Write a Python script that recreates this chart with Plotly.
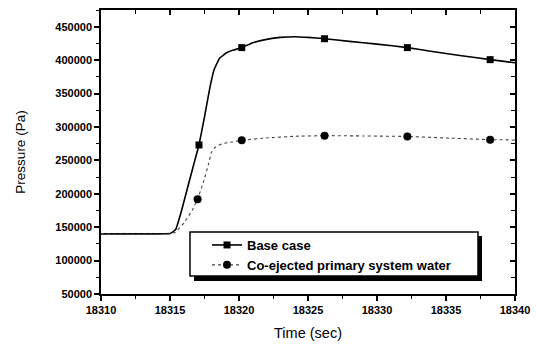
import plotly.graph_objects as go

# ---------------- data ----------------
base_t = [18310, 18314, 18315, 18315.4, 18315.8, 18316.4, 18316.8, 18317.1, 18317.5,
          18317.9, 18318.2, 18318.6, 18319.1, 18319.6, 18320.2, 18321, 18322, 18323, 18324,
          18325, 18326.2, 18328, 18330, 18332.2, 18334, 18336, 18338.2, 18340]
base_p = [140000, 140000, 140500, 146000, 172000, 219000, 250000, 273000, 315000,
          360000, 386000, 403000, 411000, 415000, 418700, 426000, 431000, 434000, 435000,
          434000, 432000, 428000, 424000, 418700, 413000, 407000, 400700, 396000]
base_mark_t = [18317.1, 18320.2, 18326.2, 18332.2, 18338.2]
base_mark_p = [273000, 418700, 432000, 418700, 400700]

coej_t = [18310, 18315, 18315.4, 18316.0, 18316.6, 18317.0, 18317.4, 18317.8, 18318.0,
          18318.3, 18318.8, 18319.5, 18320.2, 18322, 18324, 18326.2, 18329, 18332.2,
          18335, 18338.2, 18340]
coej_p = [140000, 140000, 142500, 156000, 175000, 191800, 216000, 245000, 262000,
          270000, 275000, 277500, 280000, 283500, 286000, 287000, 286500, 285800,
          283500, 281000, 280500]
coej_mark_t = [18317.0, 18320.2, 18326.2, 18332.2, 18338.2]
coej_mark_p = [191800, 280000, 287000, 285800, 281000]

series_names = ["Base case", "Co-ejected primary system water"]

x_range = [18310, 18340]
y_range = [50000, 475000]

FONT = "Liberation Sans, Arial, sans-serif"

fig = go.Figure()

# curves
fig.add_trace(go.Scatter(x=base_t, y=base_p, mode="lines", showlegend=False,
                         line=dict(color="black", width=1.6, shape="spline", smoothing=0.25),
                         hoverinfo="skip"))
fig.add_trace(go.Scatter(x=coej_t, y=coej_p, mode="lines", showlegend=False,
                         line=dict(color="#444444", width=1.1, dash="dot", shape="spline", smoothing=0.25),
                         hoverinfo="skip"))
# markers
fig.add_trace(go.Scatter(x=base_mark_t, y=base_mark_p, mode="markers", showlegend=False,
                         marker=dict(symbol="square", size=7, color="black")))
fig.add_trace(go.Scatter(x=coej_mark_t, y=coej_mark_p, mode="markers", showlegend=False,
                         marker=dict(symbol="circle", size=8, color="black")))
# legend entries (attached to the mirror axes)
fig.add_trace(go.Scatter(x=[None], y=[None], mode="lines+markers", name=series_names[0],
                         xaxis="x2", yaxis="y2",
                         line=dict(color="black", width=1.6),
                         marker=dict(symbol="square", size=7, color="black")))
fig.add_trace(go.Scatter(x=[None], y=[None], mode="lines+markers", name=series_names[1],
                         xaxis="x2", yaxis="y2",
                         line=dict(color="#444444", width=1.1, dash="dot"),
                         marker=dict(symbol="circle", size=8, color="black")))

tickfont = dict(family=FONT, size=11, color="black", weight="bold")

fig.update_layout(
    width=537, height=345,
    margin=dict(l=101, r=22, t=10, b=51, autoexpand=False),
    paper_bgcolor="white", plot_bgcolor="white",
    font=dict(family=FONT, color="black"),
    xaxis=dict(range=x_range, tick0=18310, dtick=5, ticks="outside", ticklen=5, tickwidth=1.5,
               tickcolor="black", showline=True, linecolor="black", linewidth=1.5, mirror=True,
               showgrid=False, zeroline=False, tickfont=tickfont, tickformat="d",
               automargin=False,
               minor=dict(dtick=2.5, ticks="outside", ticklen=3, tickwidth=1.2, tickcolor="black"),
               title=dict(text="Time (sec)", font=dict(family=FONT, size=14.5, color="black"),
                          standoff=13)),
    yaxis=dict(range=y_range, tick0=50000, dtick=50000, ticks="outside", ticklen=5, tickwidth=1.5,
               tickcolor="black", showline=True, linecolor="black", linewidth=1.5, mirror=True,
               showgrid=False, zeroline=False, tickfont=tickfont, tickformat="d",
               automargin=False,
               minor=dict(dtick=25000, ticks="outside", ticklen=3, tickwidth=1.2, tickcolor="black"),
               title=dict(text="Pressure (Pa)", font=dict(family=FONT, size=13.5, color="black"),
                          standoff=27)),
    xaxis2=dict(range=x_range, overlaying="x", side="top", anchor="y", tick0=18310, dtick=5,
                ticks="inside", ticklen=5, tickwidth=1.5, tickcolor="black", automargin=False,
                showticklabels=False, showgrid=False, zeroline=False, showline=False,
                minor=dict(dtick=2.5, ticks="inside", ticklen=4, tickwidth=1.2, tickcolor="black")),
    yaxis2=dict(range=y_range, overlaying="y", side="right", anchor="x", tick0=50000, dtick=50000,
                ticks="inside", ticklen=5, tickwidth=1.5, tickcolor="black", automargin=False,
                showticklabels=False, showgrid=False, zeroline=False, showline=False,
                minor=dict(dtick=25000, ticks="inside", ticklen=4, tickwidth=1.2, tickcolor="black")),
    legend=dict(x=(207 - 101) / 414, y=(294 - 230) / 284, xanchor="left", yanchor="top",
                bgcolor="rgba(0,0,0,0)", borderwidth=0,
                font=dict(family=FONT, size=13, color="black", weight="bold"),
                itemwidth=30),
    shapes=[
        # legend shadow
        dict(type="rect", xref="paper", yref="paper", layer="above",
             x0=(194 - 101) / 414, x1=(482 - 101) / 414,
             y0=(294 - 281) / 284, y1=(294 - 236) / 284,
             fillcolor="black", line=dict(width=0)),
        # legend box
        dict(type="rect", xref="paper", yref="paper", layer="above",
             x0=(190 - 101) / 414, x1=(478 - 101) / 414,
             y0=(294 - 276) / 284, y1=(294 - 232) / 284,
             fillcolor="white", line=dict(color="black", width=1.5)),
    ],
)

fig.write_html("out.html", config={"displayModeBar": False},
               post_script="document.body.style.margin='0px';")
